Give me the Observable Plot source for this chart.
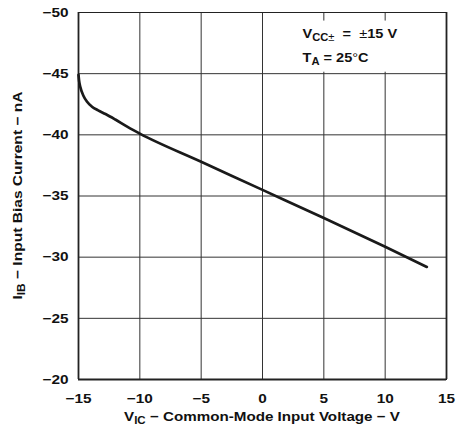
<!DOCTYPE html>
<html><head><meta charset="utf-8">
<script src="https://cdn.jsdelivr.net/npm/d3@7"></script>
<script src="https://cdn.jsdelivr.net/npm/@observablehq/plot@0.6"></script>
<style>body{margin:0;background:#fff}</style>
</head><body><div id="chart"></div>
<script>
// Common-mode input voltage (V) and input bias current (nA)
const vic = [-15, -14.95, -14.85, -14.6, -14.3, -13.9, -13.4, -12.8, -12, -11, -10, -5, 0, 5, 10, 13.4];
const iib = [-44.9, -44.4, -43.9, -43.2, -42.7, -42.3, -42.0, -41.7, -41.25, -40.65, -40.1, -37.8, -35.5, -33.2, -30.85, -29.2];
const xTicks = [-15, -10, -5, 0, 5, 10, 15];
const yTicks = [-50, -45, -40, -35, -30, -25, -20];
const xDomain = [-15, 15];
const yDomain = [-20, -50];
const noteBox = [{x1: 0.6, x2: 14.85, y1: -49.3, y2: -45.12}];
const noteAnchor = {x: 3.3, y1: -47.9, y2: -45.9};

const data = vic.map((v, i) => ({v, i: iib[i]}));
const W = 456, H = 426;
const SX = 1.18; // the lettering in the reference is wider than Arial

const plot = Plot.plot({
  width: W, height: H,
  marginLeft: 78, marginRight: 10, marginTop: 12, marginBottom: 47,
  style: {fontFamily: "'Liberation Sans', Arial, sans-serif", fontSize: "13px", fontWeight: "bold", background: "#fff", color: "#111"},
  x: {domain: xDomain, ticks: xTicks, label: null},
  y: {domain: yDomain, ticks: yTicks, label: null},
  marks: [
    Plot.gridX(xTicks, {stroke: "#333", strokeOpacity: 1, strokeWidth: 1}),
    Plot.gridY(yTicks, {stroke: "#333", strokeOpacity: 1, strokeWidth: 1}),
    Plot.rect(noteBox, {x1: "x1", x2: "x2", y1: "y1", y2: "y2", fill: "#fff"}),
    Plot.frame({stroke: "#222", strokeWidth: 1}),
    Plot.ruleX([xDomain[0], xDomain[1]], {stroke: "#222", strokeWidth: 1.8}),
    Plot.ruleY([yDomain[0]], {stroke: "#222", strokeWidth: 1.8}),
    Plot.axisX({ticks: xTicks, tickSize: 0, tickPadding: 14.5}),
    Plot.axisY({ticks: yTicks, tickSize: 0, tickPadding: 10}),
    Plot.line(data, {x: "v", y: "i", stroke: "#1a1a1a", strokeWidth: 2.7, curve: "monotone-x"})
  ]
});
document.getElementById("chart").appendChild(plot);

const svg = d3.select(plot);
const sx = plot.scale("x"), sy = plot.scale("y");
const font = "'Liberation Sans', Arial, sans-serif";

// Tick labels: size and widening
svg.selectAll('g[aria-label="x-axis tick label"], g[aria-label="y-axis tick label"]')
  .attr("font-size", 13).attr("font-weight", "bold");
svg.selectAll('g[aria-label="x-axis tick label"] text, g[aria-label="y-axis tick label"] text')
  .style("font-size", "13px").style("font-weight", "bold").attr("fill", "#111")
  .attr("transform", function() { return (this.getAttribute("transform") || "") + ` scale(${SX},1)`; });

function styled(sel, size) {
  return sel.attr("font-family", font).attr("font-size", size).attr("font-weight", "bold").attr("fill", "#111");
}

// X title
const xc = (sx.apply(xDomain[0]) + sx.apply(xDomain[1])) / 2;
const xt = styled(svg.append("text"), 13.2)
  .attr("transform", `translate(${xc},421) scale(1.15,1)`)
  .attr("text-anchor", "middle");
xt.append("tspan").text("V");
xt.append("tspan").attr("font-size", 10).attr("dy", 3).text("IC");
xt.append("tspan").attr("dy", -3).text(" − Common-Mode Input Voltage − V");

// Y title
const yc = (sy.apply(yDomain[0]) + sy.apply(yDomain[1])) / 2;
const yt = styled(svg.append("text"), 13.2)
  .attr("transform", `translate(22,${yc}) rotate(-90) scale(${SX},1)`)
  .attr("text-anchor", "middle");
yt.append("tspan").text("I");
yt.append("tspan").attr("font-size", 10).attr("dy", 3).text("IB");
yt.append("tspan").attr("dy", -3).text(" − Input Bias Current − nA");

// Note
const nx = sx.apply(noteAnchor.x);
const n1 = styled(svg.append("text"), 13)
  .attr("transform", `translate(${nx},${sy.apply(noteAnchor.y1)}) scale(1.12,1)`)
  .attr("text-anchor", "start");
n1.append("tspan").text("V");
n1.append("tspan").attr("font-size", 10).attr("dy", 3).text("CC");
n1.append("tspan").attr("font-size", 10).attr("font-weight", "normal").text("±");
n1.append("tspan").attr("dy", -3).text("  =  ");
n1.append("tspan").attr("font-weight", "normal").text("±");
n1.append("tspan").text("15 V");

const n2 = styled(svg.append("text"), 13)
  .attr("transform", `translate(${nx},${sy.apply(noteAnchor.y2)}) scale(1.12,1)`)
  .attr("text-anchor", "start");
n2.append("tspan").text("T");
n2.append("tspan").attr("font-size", 10).attr("dy", 3).text("A");
n2.append("tspan").attr("dy", -3).text(" = 25");
n2.append("tspan").attr("font-weight", "normal").text("°");
n2.append("tspan").text("C");
</script>
</body></html>
